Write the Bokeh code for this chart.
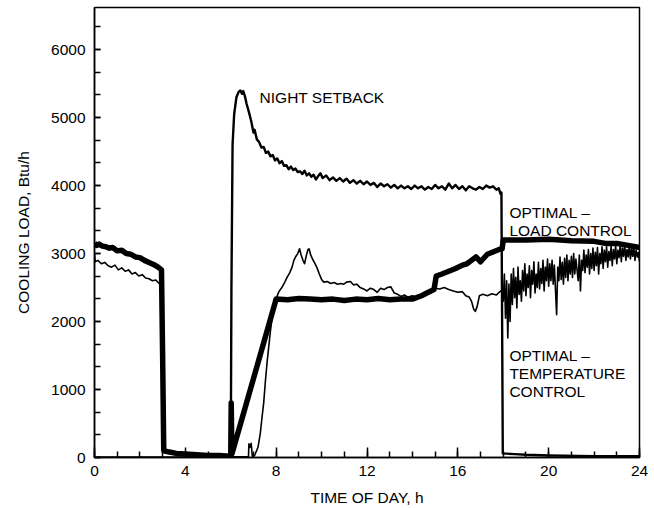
from bokeh.plotting import figure
from bokeh.models import FixedTicker
from bokeh.core.properties import value
from bokeh.embed import file_html
from bokeh.resources import INLINE

# ---------------- data ----------------
x_ticks = [0, 4, 8, 12, 16, 20, 24]
y_ticks = [0, 1000, 2000, 3000, 4000, 5000, 6000]

# Night setback
ns_t = [0, 3, 6.0, 6.03, 6.08, 6.15, 6.25, 6.35, 6.42, 6.5, 6.55, 6.62, 6.7, 6.8, 6.9,
        7.0, 7.05, 7.15, 7.25, 7.35, 7.45, 7.55, 7.65, 7.75, 7.85, 7.95, 8.05, 8.15,
        8.25, 8.35, 8.45, 8.55, 8.65, 8.75, 8.85, 8.95, 9.05, 9.15, 9.25, 9.35, 9.45,
        9.55, 9.65, 9.75, 9.85, 9.95, 10.05, 10.2, 10.35, 10.5, 10.65, 10.8, 10.95,
        11.1, 11.25, 11.4, 11.55, 11.7, 11.85, 12.0, 12.15, 12.3, 12.45, 12.6, 12.75,
        12.9, 13.05, 13.2, 13.35, 13.5, 13.65, 13.8, 13.95, 14.1, 14.25, 14.4, 14.55,
        14.7, 14.85, 15.0, 15.15, 15.3, 15.45, 15.6, 15.75, 15.9, 16.05, 16.2, 16.35,
        16.5, 16.65, 16.8, 16.95, 17.1, 17.25, 17.4, 17.55, 17.7, 17.8, 17.88, 17.92,
        17.95, 17.98, 18.5, 19, 20, 22, 24]
ns_v = [0, 0, 0, 2500, 4600, 5050, 5300, 5380, 5400, 5350, 5390, 5320, 5200, 5080, 4950,
        4780, 4820, 4680, 4640, 4560, 4570, 4480, 4500, 4430, 4450, 4370, 4400, 4330,
        4360, 4290, 4300, 4240, 4280, 4230, 4250, 4200, 4210, 4170, 4220, 4150, 4180,
        4130, 4160, 4090, 4140, 4180, 4110, 4150, 4080, 4120, 4070, 4110, 4060,
        4100, 4040, 4080, 4030, 4070, 4020, 4060, 4010, 4040, 3980, 4030, 3990,
        4020, 3970, 4010, 3960, 4000, 3960, 3990, 3950, 4000, 3960, 3990, 3940,
        3980, 3950, 4010, 3960, 3990, 3940, 4030, 3960, 4010, 3950, 3990, 3930,
        3990, 3960, 3940, 3980, 3950, 4000, 3970, 3990, 3940, 3960, 3880, 3900,
        2000, 60, 50, 40, 30, 20, 20]

# Optimal - load control
lc_t = [0, 0.1, 0.2, 0.35, 0.5, 0.65, 0.8, 1.0, 1.2, 1.4, 1.6, 1.8, 2.0, 2.2, 2.4,
        2.6, 2.8, 2.95, 3.0, 3.05, 3.3, 3.6, 4.0, 4.5, 5.0, 5.5, 5.95, 6.0, 6.02,
        6.05, 8.0, 8.5, 9.0, 9.5, 10, 10.5, 11, 11.5, 12, 12.5, 13, 13.5, 14, 14.4,
        14.7, 14.95, 15.05, 15.3, 15.6, 15.9, 16.2, 16.4, 16.6, 16.8, 17.0, 17.3,
        17.6, 17.9, 17.95, 18.0, 19, 20, 21, 22, 22.5, 23, 23.5, 24]
lc_v = [3150, 3120, 3140, 3110, 3100, 3080, 3090, 3040, 3050, 3000, 2990, 2950, 2940,
        2900, 2870, 2840, 2800, 2760, 1500, 100, 80, 60, 50, 40, 30, 30, 20, 20, 800,
        50, 2330, 2320, 2340, 2330, 2320, 2330, 2310, 2330, 2320, 2340, 2320, 2330,
        2330, 2380, 2430, 2470, 2670, 2700, 2740, 2780, 2830, 2850, 2900, 2950, 2880,
        2990, 3030, 3070, 3070, 3200, 3200, 3210, 3190, 3180, 3150, 3150, 3120, 3090]

# Optimal - temperature control
tc_t = [0.0, 0.03, 0.15, 0.3, 0.45, 0.6, 0.75, 0.9, 1.05, 1.2, 1.35, 1.5, 1.65, 1.8,
        1.95, 2.1, 2.25, 2.4, 2.55, 2.7, 2.85, 2.95, 3.0, 3.05, 3.5, 4, 4.5, 5, 5.5,
        6.0, 6.1, 6.78, 6.8, 6.85, 6.9, 6.95, 7.05, 7.2, 7.3, 7.38, 7.45, 7.52, 7.6,
        7.68, 7.75, 7.82, 7.9, 8.0, 8.12, 8.25, 8.35, 8.48, 8.6, 8.7, 8.78, 8.85,
        8.95, 9.03, 9.1, 9.18, 9.25, 9.32, 9.4, 9.45, 9.52, 9.6, 9.7, 9.8, 9.9, 10.0,
        10.1, 10.25, 10.4, 10.55, 10.7, 10.85, 10.98, 11.1, 11.27, 11.4, 11.55, 11.7,
        11.85, 12.0, 12.15, 12.3, 12.45, 12.6, 12.75, 12.9, 13.05, 13.2, 13.35, 13.5,
        13.65, 13.8, 14.0, 14.2, 14.4, 14.6, 14.8, 15.0, 15.2, 15.4, 15.6, 15.8,
        16.0, 16.2, 16.35, 16.5, 16.6, 16.7, 16.77, 16.85, 16.95, 17.1, 17.3, 17.5,
        17.7, 17.85, 17.95,
        18.0, 18.05, 18.1, 18.15, 18.2, 18.25, 18.3, 18.35, 18.4, 18.45, 18.5, 18.55,
        18.6, 18.65, 18.7, 18.75, 18.8, 18.85, 18.9, 18.95, 19.0, 19.05, 19.1, 19.15,
        19.2, 19.25, 19.3, 19.35, 19.4, 19.45, 19.5, 19.55, 19.6, 19.65, 19.7, 19.75,
        19.8, 19.85, 19.9, 19.95, 20.0, 20.05, 20.1, 20.15, 20.2, 20.25, 20.35, 20.4,
        20.45, 20.5, 20.55, 20.6, 20.65, 20.7, 20.75, 20.8, 20.85, 20.9, 20.95, 21.0,
        21.05, 21.1, 21.15, 21.2, 21.3, 21.35, 21.4, 21.45, 21.5, 21.55, 21.6, 21.65,
        21.7, 21.75, 21.8, 21.85, 21.9, 21.95, 22.0, 22.05, 22.1, 22.15, 22.2, 22.25,
        22.3, 22.35, 22.4, 22.45, 22.5, 22.55, 22.6, 22.65, 22.7, 22.75, 22.8, 22.85,
        22.9, 22.95, 23.0, 23.05, 23.1, 23.15, 23.2, 23.25, 23.3, 23.35, 23.4, 23.45,
        23.5, 23.55, 23.6, 23.65, 23.7, 23.75, 23.8, 23.85, 23.9, 23.95, 24.0]
tc_v = [3000, 2880, 2900, 2850, 2870, 2820, 2800, 2830, 2760, 2790, 2740, 2760, 2700,
        2720, 2670, 2690, 2640, 2630, 2600, 2610, 2560, 2580, 1200, 90, 70, 50, 40,
        30, 30, 20, 10, 10, 200, 150, 210, 20, 30, 150, 350, 600, 800, 1100, 1400,
        1650, 1870, 2050, 2210, 2340, 2440, 2500, 2560, 2650, 2720, 2800, 2900, 2950,
        3000, 3070, 2980, 2900, 2850, 2960, 3060, 3070, 2980, 2920, 2860, 2790, 2700,
        2620, 2580, 2590, 2560, 2575, 2550, 2560, 2550, 2580, 2590, 2540, 2550, 2500,
        2480, 2450, 2490, 2470, 2430, 2490, 2470, 2500, 2510, 2420, 2400, 2370,
        2390, 2360, 2380, 2350, 2390, 2420, 2460, 2490, 2480, 2500, 2470, 2450,
        2430, 2440, 2380, 2360, 2300, 2180, 2150, 2220, 2380, 2400, 2380, 2410,
        2390, 2440, 2460,
        2300, 2700, 2050, 2600, 1760, 2550, 2000, 2700, 2250, 2780, 2350, 2650,
        2200, 2800, 2400, 2600, 2300, 2750, 2450, 2850, 2380, 2700, 2500, 2820,
        2350, 2750, 2550, 2880, 2420, 2700, 2500, 2870, 2480, 2780, 2560, 2900,
        2450, 2800, 2600, 2920, 2520, 2850, 2600, 2900, 2550, 2830, 2100, 2800,
        2600, 2950, 2620, 2870, 2550, 2930, 2650, 2980, 2600, 2900, 2700, 2960,
        2650, 3000, 2700, 2920, 2600, 2980, 2450, 2900, 2750, 3050, 2720, 2980,
        2800, 3060, 2700, 3000, 2780, 3080, 2750, 3020, 2820, 3090, 2700, 3000,
        2850, 3100, 2780, 3050, 2880, 3100, 2800, 3030, 2900, 3110, 2820, 3060,
        2920, 3120, 2850, 3050, 2940, 3130, 2880, 3080, 2960, 3120, 2900, 3060,
        2950, 3110, 2920, 3070, 2960, 3100, 2900, 3050, 2950, 3020, 2880]

label_text = ["NIGHT SETBACK", "OPTIMAL \u2013", "LOAD CONTROL",
              "OPTIMAL \u2013", "TEMPERATURE", "CONTROL"]
label_x = [7.27, 18.27, 18.27, 18.27, 18.27, 18.27]
label_y = [5300, 3600, 3340, 1500, 1240, 975]

# ---------------- figure ----------------
FONT = "Liberation Sans"
p = figure(width=648, height=508, x_range=(0, 24), y_range=(0, 6620),
           output_backend="svg", toolbar_location=None,
           min_border_left=94, min_border_right=9, min_border_top=7,
           min_border_bottom=49)

p.xgrid.visible = False
p.ygrid.visible = False
p.outline_line_color = "black"
p.outline_line_width = 1.5
p.outline_line_alpha = 1.0

p.line(ns_t, ns_v, line_color="black", line_width=2.4, line_join="round")
p.line(tc_t, tc_v, line_color="black", line_width=1.6, line_join="round")
p.line(lc_t, lc_v, line_color="black", line_width=5.5, line_join="round")

p.text(x=label_x, y=label_y, text=label_text, text_font=value(FONT),
       text_font_size="15.5px", text_color="black", text_baseline="alphabetic",
       text_align="left")

p.xaxis.ticker = FixedTicker(ticks=x_ticks, minor_ticks=list(range(0, 25)))
p.yaxis.ticker = FixedTicker(ticks=y_ticks,
                             minor_ticks=[k * 1000 / 3 for k in range(0, 20)])

for ax in (p.xaxis[0], p.yaxis[0]):
    ax.axis_line_color = "black"
    ax.axis_line_width = 1.5
    ax.major_tick_line_color = "black"
    ax.minor_tick_line_color = "black"
    ax.major_tick_line_width = 1.5
    ax.minor_tick_line_width = 1.5
    ax.major_tick_out = 0
    ax.minor_tick_out = 0
    ax.major_label_text_font = FONT
    ax.major_label_text_font_size = "15.5px"
    ax.major_label_text_color = "black"
    ax.axis_label_text_font = FONT
    ax.axis_label_text_font_size = "15.5px"
    ax.axis_label_text_font_style = "normal"
    ax.axis_label_text_color = "black"

p.xaxis.major_tick_in = 10
p.xaxis.minor_tick_in = 6
p.yaxis.major_tick_in = 6
p.yaxis.minor_tick_in = 6
p.xaxis.major_label_standoff = 8
p.yaxis.major_label_standoff = 9
p.xaxis.axis_label = "TIME OF DAY, h"
p.yaxis.axis_label = "COOLING LOAD, Btu/h"
p.xaxis.axis_label_standoff = 10
p.yaxis.axis_label_standoff = 16

open("out.html", "w").write(file_html(p, INLINE))
